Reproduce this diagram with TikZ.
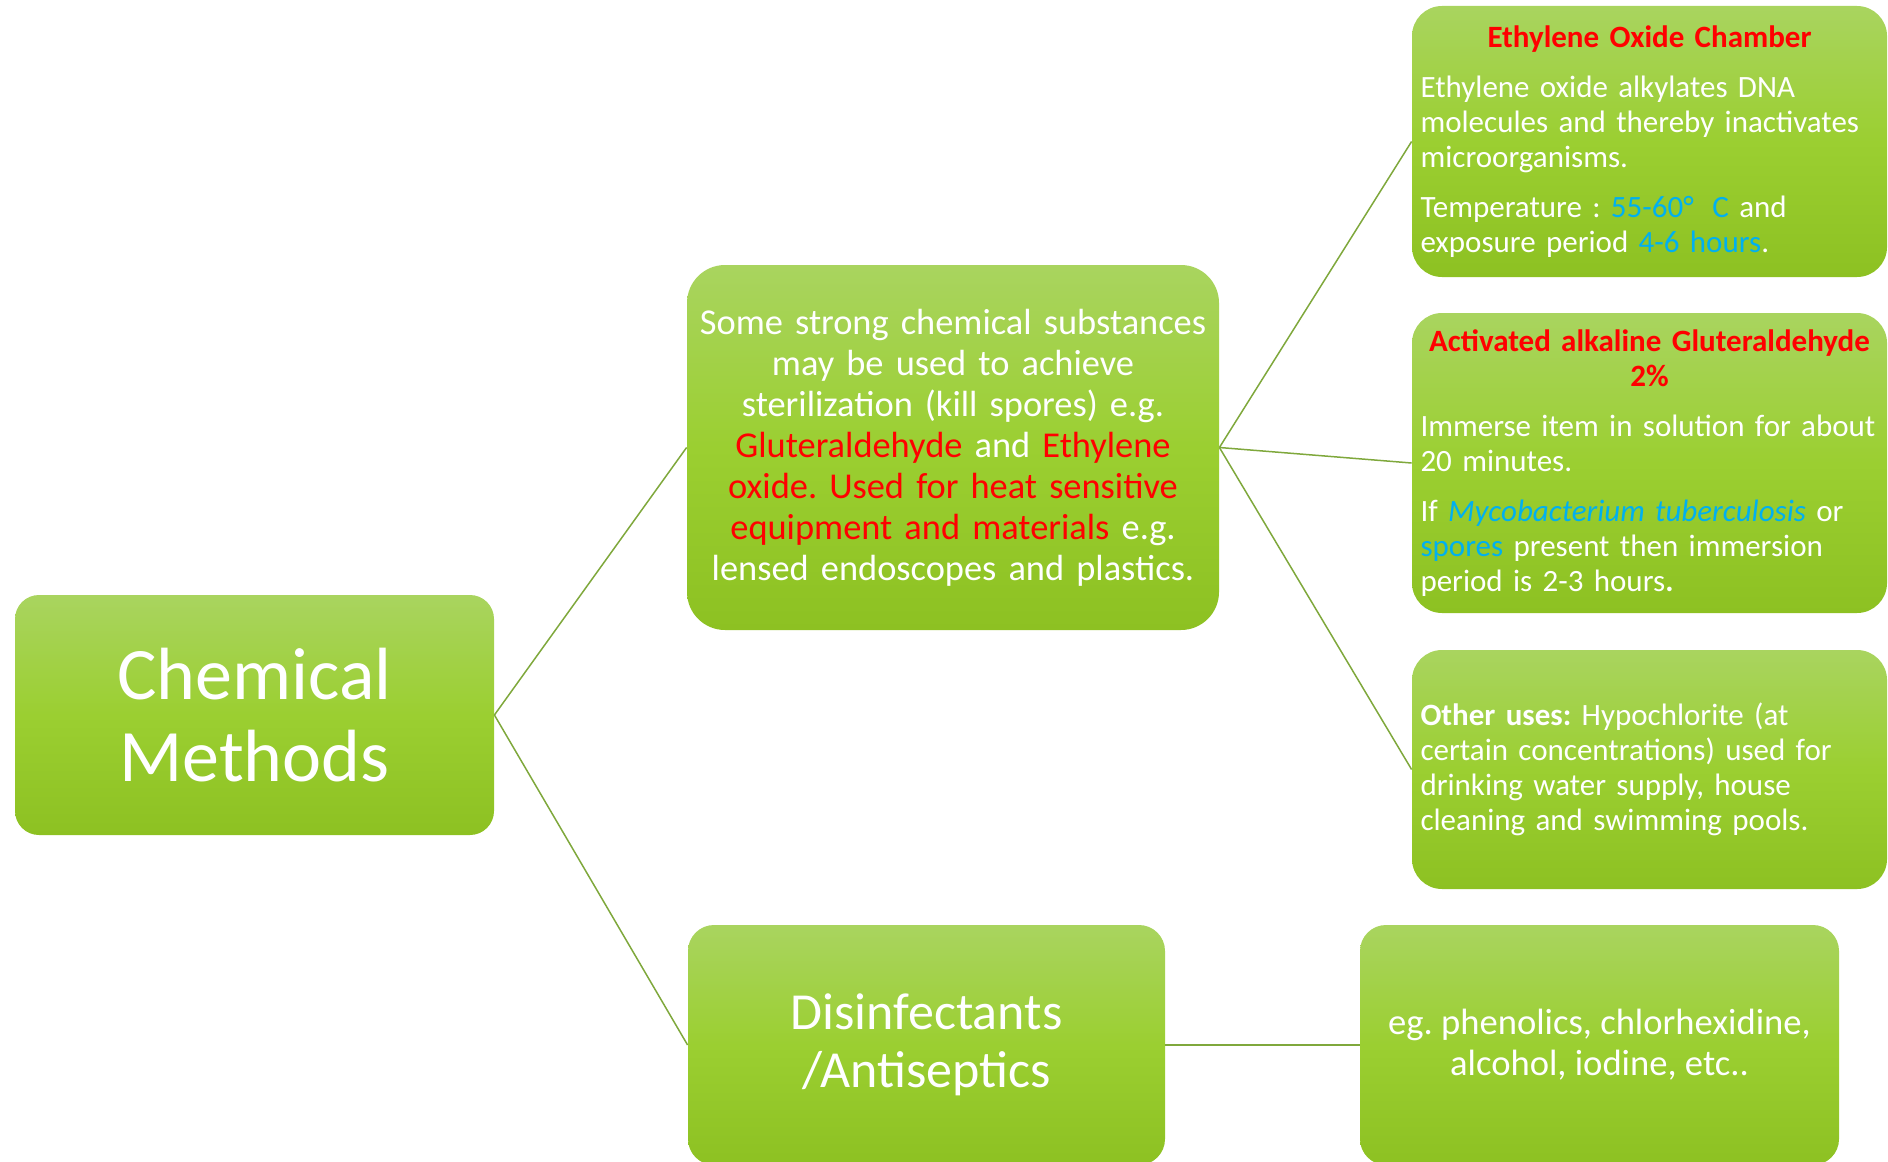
\documentclass[tikz,border=0pt]{standalone}
\usepackage{fontspec}
\setmainfont{Carlito}
\usepackage{xcolor}
\definecolor{boxtop}{HTML}{A9D45F}
\definecolor{boxmid}{HTML}{9BCF31}
\definecolor{boxbot}{HTML}{8DC122}
\definecolor{linkline}{HTML}{7FA83C}
\definecolor{hotred}{HTML}{FF0000}
\definecolor{skyblue}{HTML}{00B0F0}
\frenchspacing

\begin{document}
\begin{tikzpicture}[
  x=0.5pt, y=-0.5pt,
  greenbox/.style = {shape=rectangle, top color=boxtop, bottom color=boxbot, middle color=boxmid, text=white, inner sep=0pt},
  sidebox/.style = {greenbox, minimum width=237.5pt, rounded corners=15pt, text width=229pt, inner xsep=4.25pt, align=left, font=\fontsize{15.5}{17.5}\selectfont},
  link/.style = {line width=0.75pt, color=linkline},
]
\clip (0,0) rectangle (1888,1161);
% left column
\node[greenbox, minimum width=239.5pt, minimum height=120pt, rounded corners=12pt, align=center, font=\fontsize{37}{41}\selectfont] (chem) at (254.5,715) {Chemical\\Methods};
% middle column
\node[greenbox, minimum width=266pt, minimum height=182.5pt, rounded corners=19pt, text width=262pt, align=center, font=\fontsize{18.2}{20.5}\selectfont] (steril) at (953,447.5) {Some strong chemical substances\\ may be used to achieve\\ sterilization (kill spores) e.g.\\ {\color{hotred}Gluteraldehyde} and {\color{hotred}Ethylene}\\ {\color{hotred}oxide. Used for heat sensitive}\\ {\color{hotred}equipment and materials} e.g.\\ lensed endoscopes and plastics.};
\node[greenbox, minimum width=238.5pt, minimum height=120pt, rounded corners=13pt, align=center, font=\fontsize{26}{29}\selectfont] (disin) at (926.5,1045) {Disinfectants\\/Antiseptics};
% right column
\node[sidebox, minimum height=135.5pt] (eo) at (1649.5,141.5) {%
  \hfill{\bfseries\color{hotred}Ethylene Oxide Chamber}\hfill\null\\[7.5pt]
  Ethylene oxide alkylates DNA\\
  molecules and thereby inactivates\\
  microorganisms.\\[7.5pt]
  Temperature : {\color{skyblue}55-60°\hspace{0.6em}C} and\\
  exposure period {\color{skyblue}4-6 hours}.};
\node[sidebox, minimum height=150pt] (glut) at (1649.5,463) {%
  \hfill{\bfseries\color{hotred}Activated alkaline Gluteraldehyde}\hfill\null\\
  \hfill{\bfseries\color{hotred}2\%}\hfill\null\\[7.5pt]
  Immerse item in solution for about\\
  20 minutes.\\[7.5pt]
  If {\color{skyblue}\itshape Mycobacterium tuberculosis} or\\
  {\color{skyblue}spores} present then immersion\\
  period is 2-3 hours\textbf{.}};
\node[sidebox, minimum height=119.5pt] (other) at (1649.5,769.5) {%
  \textbf{Other uses:} Hypochlorite (at\\
  certain concentrations) used for\\
  drinking water supply, house\\
  cleaning and swimming pools.};
\node[greenbox, minimum width=239.5pt, minimum height=120pt, rounded corners=13pt, align=center, font=\fontsize{18.3}{20.5}\selectfont] (egs) at (1599.5,1045) {eg. phenolics, chlorhexidine,\\alcohol, iodine, etc..};
% connectors
\draw[link] (chem.east) -- (steril.west);
\draw[link] (chem.east) -- (disin.west);
\draw[link] (steril.east) -- (eo.west);
\draw[link] (steril.east) -- (glut.west);
\draw[link] (steril.east) -- (other.west);
\draw[link] (disin.east) -- (egs.west);
\end{tikzpicture}
\end{document}
